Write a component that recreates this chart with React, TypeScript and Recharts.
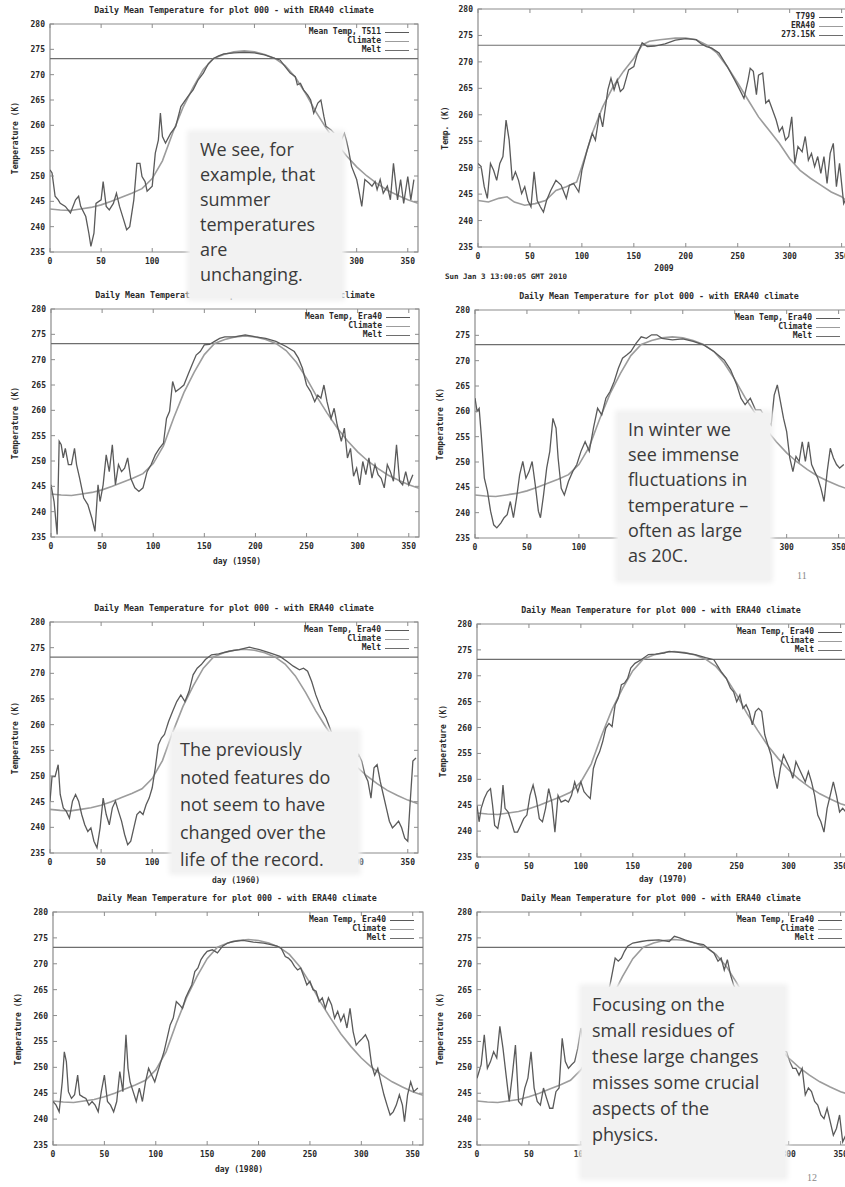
import React from 'react';
import { LineChart, Line, XAxis, YAxis, ReferenceLine, ReferenceArea } from 'recharts';

// shared axis ticks
const xTicks = [0, 50, 100, 150, 200, 250, 300, 350];
const yTicks = [235, 240, 245, 250, 255, 260, 265, 270, 275, 280];
const meltK = 273.15;

// ERA40 climatology, used by the Era40 panels
const climate: [number, number][] = [
  [0, 243.5], [10, 243.3], [20, 243.2], [30, 243.5], [40, 243.8], [50, 244.3], [60, 245], [70, 245.8],
  [80, 246.6], [90, 247.5], [100, 249.5], [110, 253], [120, 258.5], [130, 263.5], [140, 267.5], [150, 271],
  [160, 273.2], [170, 274], [180, 274.5], [190, 274.7], [200, 274.5], [210, 274], [220, 273.2], [230, 271.8],
  [240, 269.5], [250, 266.3], [260, 262.7], [270, 259.5], [280, 256.5], [290, 254], [300, 251.8], [310, 250],
  [320, 248.5], [330, 247.2], [340, 246.2], [350, 245.3], [360, 244.6],
];

// 2009 ERA40 reference curve
const era40Ref2009: [number, number][] = [
  [0, 243.8], [10, 243.5], [20, 244.2], [28, 244.5], [35, 243.5], [45, 242.9], [55, 243.2], [65, 243.8],
  [75, 245.7], [85, 246.4], [95, 247.3], [100, 250.2], [105, 253.3], [110, 256.5], [115, 259], [120, 261.5],
  [125, 263.4], [130, 265.3], [140, 268.2], [150, 270.7], [158, 273.2], [165, 273.9], [175, 274.2], [190, 274.5],
  [200, 274.5], [210, 274.2], [220, 273.2], [230, 271.7], [240, 269.1], [250, 266], [260, 262.8], [270, 259.6],
  [280, 257.1], [290, 254.6], [300, 251.7], [310, 249.5], [320, 248], [330, 246.7], [340, 245.4], [350, 244.5],
  [358, 243.2],
];

const tempT511: [number, number][] = [
  [0, 251.2], [2, 250.6], [5, 246], [8, 245.3], [10, 244.6], [15, 244], [20, 242.7], [25, 245.3], [28, 246],
  [30, 244], [35, 242], [38, 238.7], [40, 236.1], [43, 238.7], [45, 244.6], [50, 245.3], [52, 248.9], [55, 244],
  [58, 243.3], [62, 244.6], [65, 246.6], [68, 244], [72, 241.4], [75, 239.4], [78, 240], [82, 245.3], [85, 252.5],
  [88, 252.5], [90, 249.9], [93, 248.9], [95, 247], [100, 248], [103, 254.5], [106, 257.1], [108, 262.4],
  [110, 257.8], [113, 256.5], [118, 258.4], [123, 259.8], [128, 263.7], [135, 265.7], [140, 267], [145, 269],
  [150, 270.3], [155, 272.2], [160, 273.2], [165, 273.7], [170, 274.1], [180, 274.3], [190, 274.4], [200, 274.3],
  [210, 273.9], [220, 273.2], [225, 272.9], [230, 271.6], [235, 270.3], [240, 269.6], [242, 268], [245, 268.3],
  [248, 267], [252, 266], [255, 265], [258, 262.4], [262, 264.4], [265, 265], [268, 261.7], [270, 259.8],
  [275, 259.1], [280, 258], [285, 257.1], [288, 258.4], [290, 257], [292, 255.2], [295, 251.9], [300, 249.3],
  [302, 247.3], [305, 244], [308, 249.3], [312, 248.6], [315, 248], [318, 248.9], [320, 247.3], [323, 249.3],
  [326, 246.6], [330, 248], [333, 245.3], [336, 252.5], [340, 245.3], [343, 249.3], [346, 244.6], [350, 249.9],
  [353, 245.3], [356, 249.3],
];

const tempT799: [number, number][] = [
  [0, 250.8], [3, 250.2], [6, 246.4], [9, 244.2], [12, 250.8], [15, 249.5], [18, 247.6], [21, 250.8], [24, 252.1],
  [27, 259], [30, 255.2], [33, 247.6], [36, 249.2], [39, 247.6], [42, 245.1], [45, 246.4], [48, 243.8], [51, 242.6],
  [54, 249.2], [57, 243.8], [60, 242.6], [63, 241.6], [66, 243.8], [70, 245.7], [75, 247.6], [80, 246.7],
  [85, 244.2], [88, 246.7], [92, 247], [97, 245.4], [100, 249.5], [105, 253.3], [110, 256.5], [113, 255.2],
  [117, 260.3], [120, 257.7], [125, 264.7], [128, 266.9], [131, 264.7], [134, 266.6], [137, 264.4], [140, 265],
  [145, 268.5], [150, 269.1], [153, 271.3], [158, 273.6], [163, 272.9], [170, 273], [180, 273.4], [190, 274.1],
  [200, 274.4], [210, 274.2], [215, 273.4], [220, 272.9], [225, 272.6], [232, 271.7], [240, 269.1], [247, 266.6],
  [252, 264.7], [256, 263.1], [260, 266.6], [262, 268.8], [265, 268.2], [268, 263.8], [270, 267.5], [274, 267.9],
  [277, 262.2], [280, 262.8], [283, 261.2], [287, 259], [290, 256.8], [293, 257.7], [296, 255.2], [299, 255.9],
  [302, 259.6], [305, 250.8], [308, 254], [312, 253], [315, 255.9], [318, 251.4], [321, 252.7], [324, 250.2],
  [327, 252.1], [330, 248.9], [333, 252.1], [336, 247], [339, 252.7], [342, 254.6], [345, 246.4], [348, 250.8],
  [352, 243.2], [355, 244.5],
];

const temp1950: [number, number][] = [
  [0, 245.3], [3, 242], [6, 235.5], [8, 253.9], [10, 253.2], [12, 250.6], [14, 252.5], [17, 249.3], [20, 249.3],
  [23, 252.5], [25, 249.3], [28, 246.6], [32, 242.7], [36, 241.4], [40, 238.7], [43, 236.1], [46, 245.3], [48, 242],
  [51, 245.3], [54, 251.2], [57, 247.9], [60, 253.2], [63, 245.3], [66, 249.3], [69, 247.9], [72, 248.6],
  [75, 250.6], [78, 246.6], [82, 244.7], [86, 244], [90, 244.7], [94, 247.9], [98, 249.3], [102, 251.2],
  [106, 252.5], [110, 253.5], [113, 258.4], [116, 259.8], [119, 265.7], [122, 263.7], [126, 264.3], [130, 265],
  [134, 267], [138, 269], [142, 270.9], [146, 271.6], [150, 272.9], [155, 273], [160, 273.6], [165, 274.2],
  [170, 274.5], [180, 274.5], [190, 274.9], [200, 274.5], [210, 274.2], [220, 273.6], [230, 272.6], [238, 271.6],
  [242, 270.3], [246, 268.3], [250, 265], [254, 263.7], [258, 261.7], [261, 263], [264, 262.4], [267, 265],
  [270, 261.7], [274, 258.4], [277, 260.4], [280, 257.1], [284, 253.9], [287, 256.5], [290, 250.6], [293, 252.5],
  [296, 247], [299, 248.6], [302, 245.3], [305, 249.9], [308, 247.3], [311, 250.6], [314, 246.6], [317, 249.3],
  [320, 247.3], [323, 246.6], [326, 244.7], [329, 249.3], [332, 247.9], [335, 246], [338, 253.2], [341, 246],
  [344, 245.3], [347, 247.9], [350, 245.3], [354, 247.3],
];

const temp1955: [number, number][] = [
  [0, 262.6], [2, 260], [4, 260.6], [6, 255.4], [9, 246.8], [12, 244.2], [15, 240.3], [18, 237.6], [21, 237],
  [25, 238], [28, 239], [31, 239.6], [34, 242.2], [37, 239], [40, 242.9], [43, 247.5], [46, 250.1], [49, 246.8],
  [52, 248.1], [55, 250.1], [58, 245.5], [61, 240.3], [63, 239], [66, 243.5], [69, 248.8], [72, 252.1],
  [75, 258.6], [78, 256.7], [80, 250.8], [83, 244.8], [86, 243.5], [90, 246.2], [94, 248.1], [98, 249.5],
  [102, 252.1], [106, 254], [110, 252.1], [114, 256.7], [118, 260.6], [122, 259.3], [126, 262.6], [130, 263.9],
  [134, 265.9], [138, 268.5], [142, 270.5], [146, 271.1], [150, 271.8], [155, 273.4], [160, 274.7], [165, 274.4],
  [170, 275.1], [175, 275.1], [180, 274.4], [190, 274.1], [200, 274.3], [210, 273.8], [220, 273.1], [230, 271.8],
  [240, 270.1], [246, 268.2], [252, 265.2], [256, 262.6], [260, 261.3], [265, 262.6], [270, 260.3], [275, 260.3],
  [280, 258.6], [285, 257.3], [288, 263.2], [291, 265.2], [294, 261.9], [297, 258.6], [300, 256], [303, 250.8],
  [306, 248.1], [309, 251.1], [312, 250.1], [315, 254], [318, 250.1], [321, 254], [324, 249.5], [327, 248.1],
  [330, 246.8], [333, 244.8], [336, 242.2], [339, 248.1], [342, 252.7], [345, 250.8], [348, 249.5], [351, 248.8],
  [355, 249.5],
];

const temp1960: [number, number][] = [
  [0, 245.1], [2, 249.9], [5, 249.9], [8, 252.2], [10, 246.4], [13, 243.8], [16, 243.1], [19, 241.8], [22, 245.1],
  [25, 246.4], [28, 245.1], [31, 242.5], [34, 240.5], [37, 239.2], [40, 239.9], [43, 237.3], [46, 236], [49, 239.9],
  [52, 245.7], [55, 242.5], [58, 240.5], [61, 243.8], [64, 245.1], [67, 243.1], [70, 241.2], [73, 238.6],
  [76, 236.6], [79, 237.3], [82, 239.9], [85, 242.5], [88, 243.1], [91, 242.5], [94, 244.4], [97, 245.7],
  [100, 247.7], [103, 251.6], [106, 256.1], [109, 257.4], [112, 258.1], [116, 260.6], [120, 262.6], [124, 264.5],
  [128, 265.8], [132, 264.5], [136, 266.5], [140, 269.7], [144, 271], [148, 271.7], [152, 272.7], [158, 273.6],
  [165, 273.8], [175, 274.3], [185, 274.6], [195, 275.1], [205, 274.6], [215, 274], [225, 273.3], [232, 272.3],
  [238, 271.4], [244, 270.7], [248, 271], [252, 270.4], [256, 268.4], [260, 265.8], [265, 263.2], [270, 261.3],
  [275, 258.7], [280, 256.8], [288, 254.8], [292, 253.5], [296, 251.6], [302, 254.2], [305, 252.9], [308, 250.3],
  [311, 249], [314, 245.7], [317, 251.6], [320, 252.2], [323, 249], [326, 246.4], [329, 243.8], [332, 241.2],
  [335, 239.9], [338, 240.5], [341, 241.2], [344, 239.9], [347, 237.9], [350, 237.3], [352, 243.8], [355, 252.9],
  [358, 253.5],
];

const temp1970: [number, number][] = [
  [0, 245], [2, 241.8], [4, 244.4], [7, 246.3], [10, 247.6], [13, 248.2], [15, 245], [17, 241.1], [20, 240.5],
  [23, 243.7], [25, 248.9], [27, 244.4], [30, 243.7], [33, 241.8], [36, 239.8], [39, 239.8], [42, 241.1],
  [45, 242.4], [48, 243.1], [51, 246.9], [54, 248.9], [57, 246.3], [60, 242.4], [63, 241.8], [66, 244.4],
  [69, 248.2], [72, 245.6], [75, 239.8], [78, 246.9], [81, 245.6], [85, 246], [88, 245.6], [91, 246.9], [94, 249.5],
  [97, 247.6], [100, 249.5], [103, 247.6], [106, 246.9], [109, 246.3], [112, 252.1], [115, 254], [118, 255.3],
  [121, 257.3], [124, 259.9], [127, 260.8], [130, 260.2], [133, 264.4], [136, 265.7], [139, 268.3], [142, 268.6],
  [145, 269.5], [148, 271.5], [152, 272.4], [158, 273.1], [165, 274.1], [172, 274.2], [180, 274.4], [185, 274.7],
  [190, 274.6], [200, 274.4], [210, 274.1], [220, 273.5], [228, 273.1], [235, 270.8], [240, 269.5], [244, 267.6],
  [247, 266.9], [250, 265], [253, 266.3], [256, 263.7], [259, 264.4], [262, 263.1], [265, 260.5], [268, 263.1],
  [271, 263.7], [274, 263.1], [277, 258.6], [280, 256.6], [283, 254.7], [286, 250.8], [289, 248.2], [292, 252.1],
  [295, 254.7], [298, 253.4], [301, 252.1], [304, 250.2], [307, 253.4], [310, 252.1], [313, 250.8], [316, 249.5],
  [319, 251.5], [322, 249.5], [325, 246.9], [328, 243.1], [331, 241.8], [334, 239.8], [337, 244.4], [340, 246.9],
  [343, 249.5], [346, 246.9], [349, 243.7], [352, 244.4], [355, 243.7],
];

const temp1980: [number, number][] = [
  [0, 243.4], [3, 242.7], [6, 241.4], [9, 247.2], [11, 253], [13, 251.1], [15, 245.3], [18, 244], [21, 244.7],
  [24, 248.5], [26, 244.7], [29, 244.3], [32, 244], [35, 242.7], [38, 243.4], [41, 242.7], [44, 241.4], [47, 245.3],
  [50, 248.5], [53, 243.4], [56, 242.7], [59, 241.4], [62, 243.4], [65, 249.2], [68, 245.3], [71, 256.3],
  [73, 249.8], [75, 247.2], [78, 245.3], [81, 243.4], [84, 246], [87, 243.4], [90, 247.2], [93, 249.8], [96, 248.5],
  [99, 247.2], [102, 249.2], [105, 251.1], [108, 253], [111, 255.6], [114, 258.2], [117, 259.5], [120, 262.7],
  [123, 262.1], [126, 261.4], [129, 263.4], [132, 264.7], [135, 265.9], [138, 268.5], [141, 269.2], [144, 270.8],
  [147, 271.7], [150, 272.4], [155, 272.7], [160, 272.1], [165, 273.4], [170, 274], [175, 274.3], [185, 274.5],
  [195, 274.2], [205, 274], [212, 273.7], [218, 273.4], [222, 273], [226, 271.4], [229, 271.1], [232, 270.5],
  [235, 269.5], [238, 268.8], [241, 269.2], [244, 267.6], [247, 265.9], [250, 266.6], [253, 265], [256, 264.7],
  [259, 262.7], [262, 263.4], [265, 261.4], [268, 263.4], [271, 262.1], [274, 259.5], [277, 260.8], [280, 258.9],
  [283, 260.2], [286, 257.6], [289, 261.4], [292, 256.9], [295, 254.3], [298, 255], [301, 255.6], [304, 256.3],
  [307, 255], [310, 250.5], [313, 248.5], [316, 249.8], [319, 247.2], [322, 244.7], [325, 242.7], [328, 240.8],
  [331, 241.4], [334, 242.7], [337, 244.7], [340, 242.7], [342, 239.5], [345, 244.7], [348, 247.2], [351, 245.3],
  [355, 246],
];

const temp1990: [number, number][] = [
  [0, 247.9], [2, 249.2], [4, 250.5], [7, 256.3], [10, 249.8], [13, 251.1], [16, 253], [19, 251.8], [22, 257.9],
  [25, 253.7], [28, 248.5], [31, 243.4], [34, 248.5], [37, 254.3], [40, 243.4], [43, 242.7], [46, 246], [49, 247.9],
  [52, 253], [55, 246], [58, 243.4], [61, 242.7], [64, 246], [67, 244], [70, 242.1], [73, 242.1], [76, 245.3],
  [79, 246], [82, 255.6], [85, 251.1], [88, 249.8], [91, 250.5], [94, 251.1], [97, 253.7], [100, 257.6],
  [104, 253], [108, 255], [113, 257], [118, 259.5], [123, 262.5], [128, 265.9], [133, 271.1], [136, 270.5],
  [139, 271.1], [142, 272.4], [145, 273.4], [150, 274], [158, 274.3], [165, 274.5], [175, 274.6], [185, 274.3],
  [190, 275.3], [195, 275], [200, 274.6], [210, 274], [218, 273.7], [224, 272.7], [228, 272.1], [232, 270.5],
  [235, 271.1], [238, 268.8], [241, 270.8], [244, 267.9], [247, 265.9], [252, 264], [258, 261.5], [264, 259.5],
  [270, 258], [276, 256.5], [282, 255], [288, 254], [294, 253.2], [298, 253], [301, 251.1], [304, 249.8],
  [307, 249.8], [310, 248.5], [313, 249.8], [316, 244.7], [319, 246], [322, 245.3], [325, 243.4], [328, 242.7],
  [331, 240.8], [334, 240.1], [337, 242.1], [340, 239.5], [343, 236.9], [346, 238.2], [349, 240.8], [352, 235.6],
  [355, 236.9],
];

const meanColor = '#5a5a5a';
const climColor = '#9c9c9c';
const meltColor = '#6e6e6e';
const frameColor = '#8c8c8c';
const monoFont = '"DejaVu Sans Mono", monospace';

const toRows = (pts: [number, number][]) => pts.map(([day, t]) => ({ day, t }));

type PanelProps = {
  left: number;
  top: number;
  plotW: number;
  plotH: number;
  title?: string;
  xLabel?: string;
  xLabelDy?: number;
  yLabel: string;
  yLabelX: number;
  legend: string[];
  mean: [number, number][];
  clim: [number, number][];
};

const Panel = (p: PanelProps) => {
  const W = p.plotW + 60;
  const H = p.plotH + 24 + 36;
  const tickStyle = { fontFamily: monoFont, fontSize: 8, fontWeight: 700, fill: '#2a2a2a' };

  const XTick = (props: any) => {
    const { x, y, payload } = props;
    return (
      <g>
        <line x1={x} x2={x} y1={y} y2={y - 4} stroke={frameColor} />
        <line x1={x} x2={x} y1={y - p.plotH} y2={y - p.plotH + 4} stroke={frameColor} />
        <text x={x} y={y + 12} textAnchor="middle" style={tickStyle}>{payload.value}</text>
      </g>
    );
  };
  const YTick = (props: any) => {
    const { x, y, payload } = props;
    return (
      <g>
        <line x1={x} x2={x + 4} y1={y} y2={y} stroke={frameColor} />
        <line x1={x + p.plotW} x2={x + p.plotW - 4} y1={y} y2={y} stroke={frameColor} />
        <text x={x - 5} y={y + 3} textAnchor="end" style={tickStyle}>{payload.value}</text>
      </g>
    );
  };

  const legendColors = [meanColor, climColor, meltColor];
  const right = p.left + p.plotW;

  return (
    <>
      <div style={{ position: 'absolute', left: p.left - 50, top: p.top - 24 }}>
        <LineChart width={W} height={H} margin={{ top: 24, right: 10, bottom: 6, left: 0 }}>
          <XAxis
            dataKey="day"
            type="number"
            domain={[0, 360]}
            ticks={xTicks}
            height={30}
            axisLine={false}
            tickLine={false}
            tickSize={0}
            tickMargin={0}
            tick={<XTick />}
            allowDataOverflow
          />
          <YAxis
            type="number"
            domain={[235, 280]}
            ticks={yTicks}
            width={50}
            axisLine={false}
            tickLine={false}
            tickSize={0}
            tickMargin={0}
            tick={<YTick />}
            allowDataOverflow
          />
          <ReferenceArea x1={0} x2={360} y1={235} y2={280} fill="none" fillOpacity={0} stroke={frameColor} strokeWidth={1.2} />
          <ReferenceLine y={meltK} stroke={meltColor} strokeWidth={1.2} />
          <Line data={toRows(p.clim)} dataKey="t" type="linear" dot={false} stroke={climColor} strokeWidth={1.6} isAnimationActive={false} />
          <Line data={toRows(p.mean)} dataKey="t" type="linear" dot={false} stroke={meanColor} strokeWidth={1.3} isAnimationActive={false} />
        </LineChart>
      </div>
      {p.title && (
        <div style={{ position: 'absolute', left: p.left + 184, top: p.top - 14, transform: 'translate(-50%, -50%)', fontFamily: monoFont, fontSize: 8.3, fontWeight: 700, color: '#2a2a2a', whiteSpace: 'nowrap' }}>
          {p.title}
        </div>
      )}
      {p.legend.map((name, i) => (
        <div key={name} style={{ position: 'absolute', top: p.top + 8 + i * 9 - 5 }}>
          <div style={{ position: 'absolute', right: -(right - 37), width: 120, textAlign: 'right', fontFamily: monoFont, fontSize: 8, fontWeight: 700, color: '#2a2a2a', lineHeight: '10px', whiteSpace: 'nowrap' }}>
            {name}
          </div>
          <div style={{ position: 'absolute', left: right - 33, top: 5, width: 24, height: 1.3, background: legendColors[i] }} />
        </div>
      ))}
      {p.xLabel && (
        <div style={{ position: 'absolute', left: p.left + 186, top: p.top + p.plotH + (p.xLabelDy ?? 24), transform: 'translate(-50%, -50%)', fontFamily: monoFont, fontSize: 8, fontWeight: 700, color: '#2a2a2a', whiteSpace: 'nowrap' }}>
          {p.xLabel}
        </div>
      )}
      <div style={{ position: 'absolute', left: p.yLabelX, top: p.top + p.plotH / 2, transform: 'translate(-50%, -50%) rotate(-90deg)', fontFamily: monoFont, fontSize: 8, fontWeight: 700, color: '#2a2a2a', whiteSpace: 'nowrap' }}>
        {p.yLabel}
      </div>
    </>
  );
};

const boxText = { fontFamily: '"Open Sans", "Noto Sans", sans-serif', fontSize: 18, color: '#3a3a3a' };

const Note = ({ left, top, width, height, lines, pad, lh }: { left: number; top: number; width: number; height: number; lines: string[]; pad: number; lh: number }) => (
  <div style={{ position: 'absolute', left, top, width, height, background: '#f2f2f2', boxShadow: '0 0 5px 3px #f2f2f2' }}>
    <div style={{ ...boxText, position: 'absolute', left: pad, top: 4, lineHeight: `${lh}px`, whiteSpace: 'nowrap' }}>
      {lines.map((l) => (
        <div key={l}>{l}</div>
      ))}
    </div>
  </div>
);

const TITLE = 'Daily Mean Temperature for plot 000 - with ERA40 climate';
const eraLegend = ['Mean Temp, Era40', 'Climate', 'Melt'];

export default function App() {
  return (
    <div style={{ position: 'absolute', left: 0, top: 0, width: 845, height: 1187, overflow: 'hidden', background: '#ffffff' }}>
      <Panel left={50} top={24} plotW={368} plotH={228} title={TITLE} yLabel="Temperature (K)" yLabelX={15}
        legend={['Mean Temp, T511', 'Climate', 'Melt']} mean={tempT511} clim={climate} />
      <Panel left={478} top={9} plotW={374} plotH={238} xLabel="2009" xLabelDy={21} yLabel="Temp. (K)" yLabelX={445}
        legend={['T799', 'ERA40', '273.15K']} mean={tempT799} clim={era40Ref2009} />
      <div style={{ position: 'absolute', left: 445, top: 272, fontFamily: monoFont, fontSize: 7.5, fontWeight: 700, color: '#2a2a2a', whiteSpace: 'nowrap' }}>
        Sun Jan  3 13:00:05 GMT 2010
      </div>
      <Panel left={51} top={309} plotW={368} plotH={228} title={TITLE} xLabel="day (1950)" yLabel="Temperature (K)" yLabelX={15}
        legend={eraLegend} mean={temp1950} clim={climate} />
      <Panel left={475} top={310} plotW={374} plotH={228} title={TITLE} yLabel="Temperature (K)" yLabelX={440}
        legend={eraLegend} mean={temp1955} clim={climate} />
      <Panel left={50} top={622} plotW={368} plotH={231} title={TITLE} xLabel="day (1960)" xLabelDy={27} yLabel="Temperature (K)" yLabelX={15}
        legend={eraLegend} mean={temp1960} clim={climate} />
      <Panel left={477} top={624} plotW={374} plotH={233} title={TITLE} xLabel="day (1970)" xLabelDy={22} yLabel="Temperature (K)" yLabelX={443}
        legend={eraLegend} mean={temp1970} clim={climate} />
      <Panel left={53} top={912} plotW={370} plotH={233} title={TITLE} xLabel="day (1980)" yLabel="Temperature (K)" yLabelX={18}
        legend={eraLegend} mean={temp1980} clim={climate} />
      <Panel left={477} top={912} plotW={374} plotH={233} title={TITLE} yLabel="Temperature (K)" yLabelX={440}
        legend={eraLegend} mean={temp1990} clim={climate} />

      <Note left={190} top={133} width={152} height={165} pad={10} lh={25}
        lines={['We see, for', 'example, that', 'summer', 'temperatures', 'are', 'unchanging.']} />
      <Note left={618} top={413} width={152} height={167} pad={10} lh={25.2}
        lines={['In winter we', 'see immense', 'fluctuations in', 'temperature \u2013', 'often as large', 'as 20C.']} />
      <Note left={172} top={732} width={186} height={140} pad={8} lh={27.5}
        lines={['The previously', 'noted features do', 'not seem to have', 'changed over the', 'life of the record.']} />
      <Note left={582} top={987} width={203} height={190} pad={10} lh={26}
        lines={['Focusing on the', 'small residues of', 'these large changes', 'misses some crucial', 'aspects of the', 'physics.']} />

      <div style={{ position: 'absolute', left: 797, top: 570, fontFamily: 'serif', fontSize: 10, color: '#888' }}>11</div>
      <div style={{ position: 'absolute', left: 807, top: 1172, fontFamily: 'serif', fontSize: 10, color: '#888' }}>12</div>
    </div>
  );
}
